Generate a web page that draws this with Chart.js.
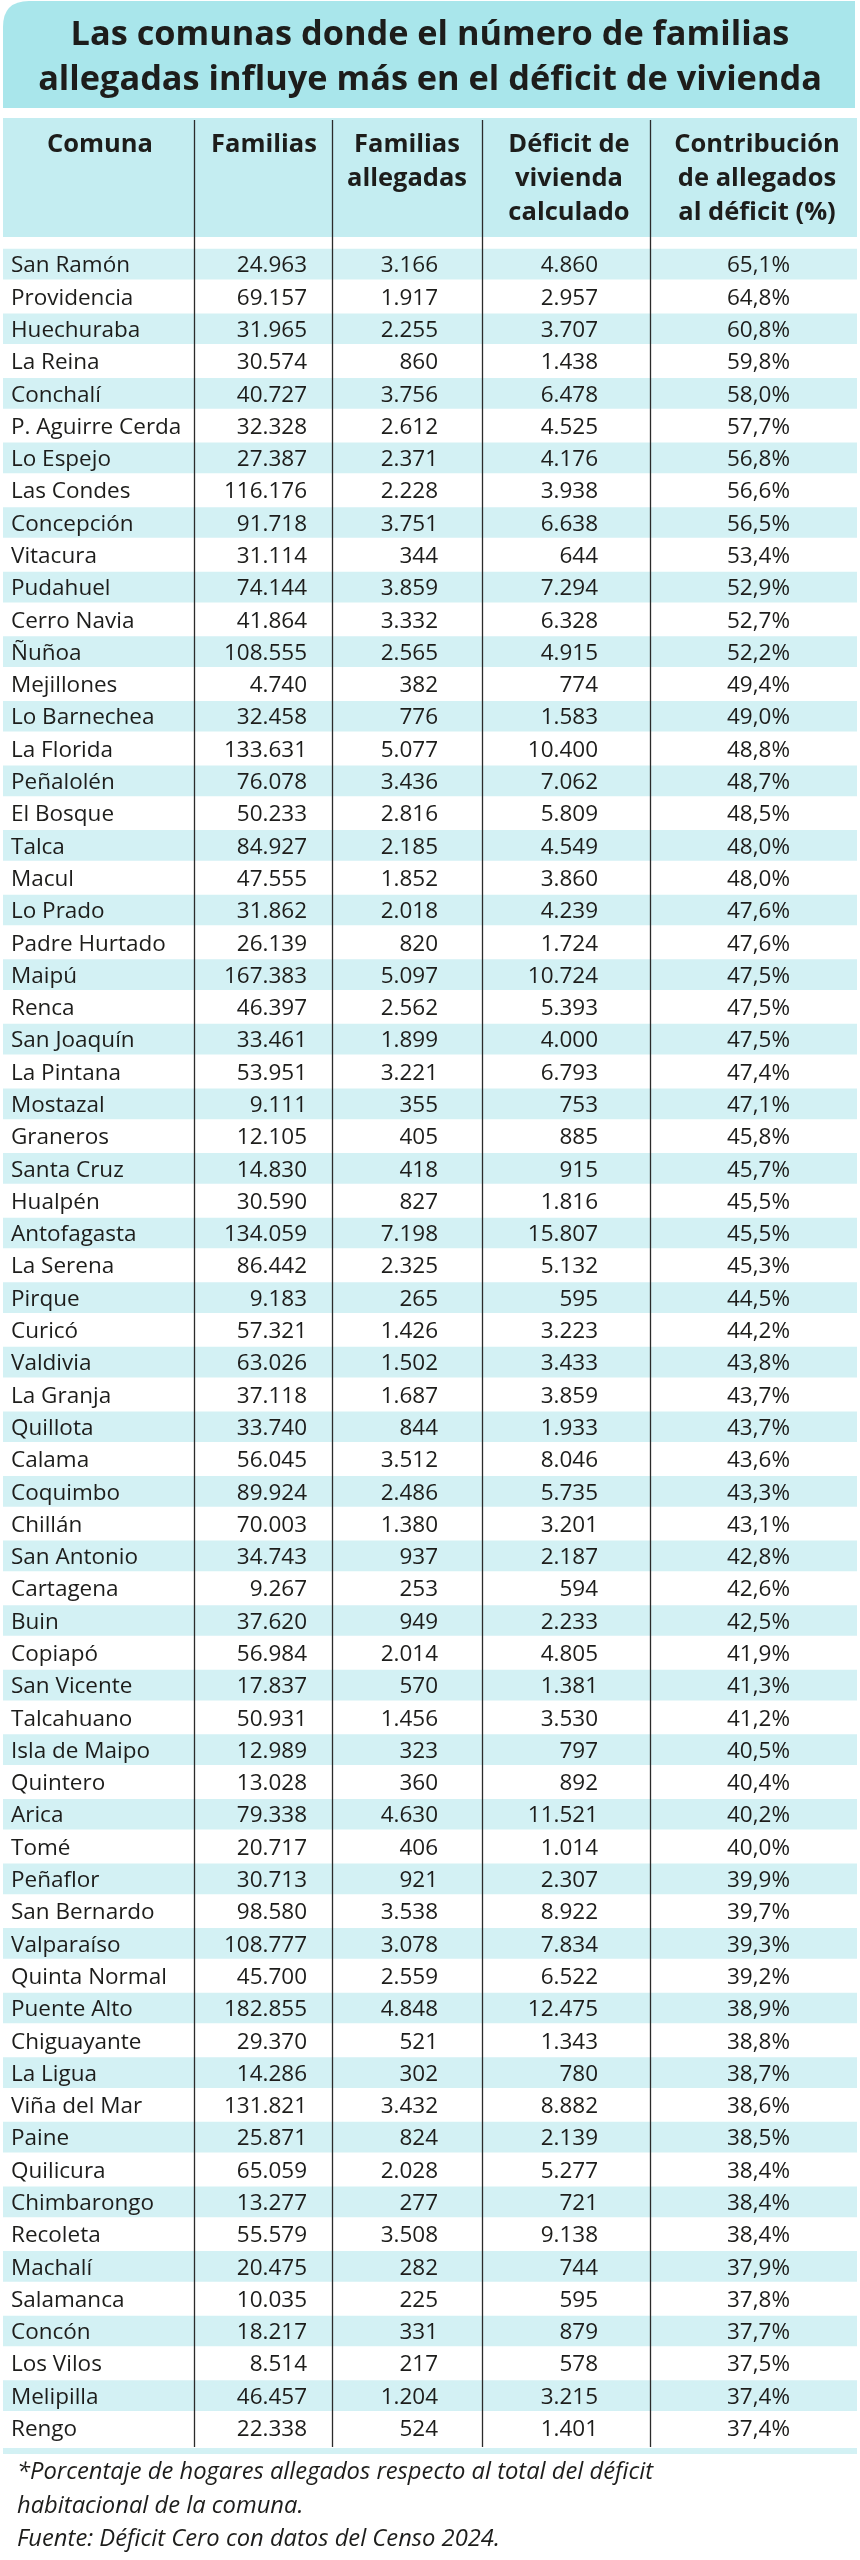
<!DOCTYPE html>
<html>
<head>
<meta charset="utf-8">
<script src="https://cdn.jsdelivr.net/npm/chart.js@4.4.1/dist/chart.umd.min.js"></script>
<style>
html,body{margin:0;padding:0;background:#fff;}
#wrap{position:relative;width:860px;height:2560px;}
canvas{display:block;}
</style>
</head>
<body>
<div id="wrap"><canvas id="c" width="860" height="2560"></canvas></div>
<script>
// ---------- DATA ----------
const comunas = ["San Ramón","Providencia","Huechuraba","La Reina","Conchalí","P. Aguirre Cerda","Lo Espejo","Las Condes","Concepción","Vitacura","Pudahuel","Cerro Navia","Ñuñoa","Mejillones","Lo Barnechea","La Florida","Peñalolén","El Bosque","Talca","Macul","Lo Prado","Padre Hurtado","Maipú","Renca","San Joaquín","La Pintana","Mostazal","Graneros","Santa Cruz","Hualpén","Antofagasta","La Serena","Pirque","Curicó","Valdivia","La Granja","Quillota","Calama","Coquimbo","Chillán","San Antonio","Cartagena","Buin","Copiapó","San Vicente","Talcahuano","Isla de Maipo","Quintero","Arica","Tomé","Peñaflor","San Bernardo","Valparaíso","Quinta Normal","Puente Alto","Chiguayante","La Ligua","Viña del Mar","Paine","Quilicura","Chimbarongo","Recoleta","Machalí","Salamanca","Concón","Los Vilos","Melipilla","Rengo"];
const familias = [24963,69157,31965,30574,40727,32328,27387,116176,91718,31114,74144,41864,108555,4740,32458,133631,76078,50233,84927,47555,31862,26139,167383,46397,33461,53951,9111,12105,14830,30590,134059,86442,9183,57321,63026,37118,33740,56045,89924,70003,34743,9267,37620,56984,17837,50931,12989,13028,79338,20717,30713,98580,108777,45700,182855,29370,14286,131821,25871,65059,13277,55579,20475,10035,18217,8514,46457,22338];
const familiasAllegadas = [3166,1917,2255,860,3756,2612,2371,2228,3751,344,3859,3332,2565,382,776,5077,3436,2816,2185,1852,2018,820,5097,2562,1899,3221,355,405,418,827,7198,2325,265,1426,1502,1687,844,3512,2486,1380,937,253,949,2014,570,1456,323,360,4630,406,921,3538,3078,2559,4848,521,302,3432,824,2028,277,3508,282,225,331,217,1204,524];
const deficitCalculado = [4860,2957,3707,1438,6478,4525,4176,3938,6638,644,7294,6328,4915,774,1583,10400,7062,5809,4549,3860,4239,1724,10724,5393,4000,6793,753,885,915,1816,15807,5132,595,3223,3433,3859,1933,8046,5735,3201,2187,594,2233,4805,1381,3530,797,892,11521,1014,2307,8922,7834,6522,12475,1343,780,8882,2139,5277,721,9138,744,595,879,578,3215,1401];
const contribucion = [65.1,64.8,60.8,59.8,58.0,57.7,56.8,56.6,56.5,53.4,52.9,52.7,52.2,49.4,49.0,48.8,48.7,48.5,48.0,48.0,47.6,47.6,47.5,47.5,47.5,47.4,47.1,45.8,45.7,45.5,45.5,45.3,44.5,44.2,43.8,43.7,43.7,43.6,43.3,43.1,42.8,42.6,42.5,41.9,41.3,41.2,40.5,40.4,40.2,40.0,39.9,39.7,39.3,39.2,38.9,38.8,38.7,38.6,38.5,38.4,38.4,38.4,37.9,37.8,37.7,37.5,37.4,37.4];
const headerLabels = [["Comuna"],["Familias"],["Familias","allegadas"],["Déficit de","vivienda","calculado"],["Contribución","de allegados","al déficit (%)"]];
const titleLines = ["Las comunas donde el número de familias","allegadas influye más en el déficit de vivienda"];
const footnoteLines = ["*Porcentaje de hogares allegados respecto al total del déficit","habitacional de la comuna.","Fuente: Déficit Cero con datos del Censo 2024."];

// ---------- LAYOUT / STYLE ----------
const TABLE_W = 854;                       // x-scale units (px from table left)
const COL_DIVIDERS = [191, 329, 479, 647];
const CELL_ANCHORS = [
  {x: 8,   align: 'left'},
  {x: 304, align: 'right'},
  {x: 435, align: 'right'},
  {x: 595, align: 'right'},
  {x: 787, align: 'right'}
];
const HEADER_CENTERS = [97, 261, 404, 566, 754];
const C_TITLE_BAND = '#a9e6eb';
const C_HEADER = '#c4edf1';
const C_STRIPE = '#d3f1f4';
const C_TEXT = '#1d1d1b';
const FONT = '"Open Sans", "Noto Sans", "DejaVu Sans", sans-serif';

function fmtInt(n){ return String(n).replace(/\B(?=(\d{3})+(?!\d))/g, '.'); }
function fmtPct(v){ return v.toFixed(1).replace('.', ',') + '%'; }

function fitSize(c, style, text, target, base){
  c.font = style + base + 'px ' + FONT;
  return base * target / c.measureText(text).width;
}

const tablePlugin = {
  id: 'tablePlugin',
  beforeDraw(chart){
    const c = chart.ctx;
    const xs = chart.scales.x;
    const L = xs.getPixelForValue(0), R = xs.getPixelForValue(TABLE_W);
    c.save();
    c.fillStyle = '#ffffff';
    c.fillRect(0, 0, chart.width, chart.height);
    // title band with rounded top-left corner
    const top = 1, bot = 108, r = 26, tl = L, tr = R - 2;
    c.fillStyle = C_TITLE_BAND;
    c.beginPath();
    c.moveTo(tl, bot);
    c.lineTo(tl, top + r);
    c.quadraticCurveTo(tl, top, tl + r, top);
    c.lineTo(tr, top);
    c.lineTo(tr, bot);
    c.closePath();
    c.fill();
    // header band
    c.fillStyle = C_HEADER;
    c.fillRect(L, 118, R - L, 119);
    c.restore();
  },
  afterDatasetsDraw(chart){
    const c = chart.ctx;
    const xs = chart.scales.x, ys = chart.scales.y;
    const area = chart.chartArea;
    c.save();
    // bottom stripe
    c.fillStyle = C_STRIPE;
    c.fillRect(xs.getPixelForValue(0), area.bottom + 4, xs.getPixelForValue(TABLE_W) - xs.getPixelForValue(0), 6);
    // column dividers
    c.strokeStyle = '#2b2b2b';
    c.lineWidth = 1.3;
    COL_DIVIDERS.forEach(v => {
      const x = Math.round(xs.getPixelForValue(v)) + 0.5;
      c.beginPath();
      c.moveTo(x, 120);
      c.lineTo(x, area.bottom + 3);
      c.stroke();
    });
    // title
    c.fillStyle = C_TEXT;
    c.textAlign = 'center';
    c.textBaseline = 'alphabetic';
    const ts = fitSize(c, 'bold ', titleLines[1], 784, 30);
    c.font = 'bold ' + ts.toFixed(2) + 'px ' + FONT;
    const tc = (xs.getPixelForValue(0) + xs.getPixelForValue(TABLE_W)) / 2;
    c.fillText(titleLines[0], tc, 45);
    c.fillText(titleLines[1], tc, 90);
    // header labels
    c.font = 'bold 25.5px ' + FONT;
    headerLabels.forEach((lines, i) => {
      const x = xs.getPixelForValue(HEADER_CENTERS[i]);
      lines.forEach((t, j) => c.fillText(t, x, 152 + j * 34));
    });
    // cells
    c.font = '22.5px ' + FONT;
    const cols = [comunas, familias.map(fmtInt), familiasAllegadas.map(fmtInt), deficitCalculado.map(fmtInt), contribucion.map(fmtPct)];
    comunas.forEach((_, i) => {
      const yb = ys.getPixelForValue(i) + 8.2;
      cols.forEach((col, k) => {
        c.textAlign = CELL_ANCHORS[k].align;
        c.fillText(col[i], xs.getPixelForValue(CELL_ANCHORS[k].x), yb);
      });
    });
    // footnotes
    c.textAlign = 'left';
    const fs = fitSize(c, 'italic ', footnoteLines[0], 636, 20);
    c.font = 'italic ' + fs.toFixed(2) + 'px ' + FONT;
    const fb = [2479, 2513, 2546];
    footnoteLines.forEach((t, j) => c.fillText(t, 17, fb[j]));
    c.restore();
  }
};

const ctx = document.getElementById('c').getContext('2d');
new Chart(ctx, {
  type: 'bar',
  data: {
    labels: comunas,
    datasets: [{
      label: 'filas',
      data: comunas.map(() => [0, TABLE_W]),
      backgroundColor: (cx) => (cx.dataIndex % 2 === 0 ? C_STRIPE : 'rgba(255,255,255,0)'),
      borderWidth: 0,
      barPercentage: 0.95,
      categoryPercentage: 1
    }]
  },
  options: {
    indexAxis: 'y',
    responsive: false,
    animation: false,
    events: [],
    layout: { padding: { top: 248, bottom: 116, left: 3, right: 3 } },
    scales: {
      x: { type: 'linear', min: 0, max: TABLE_W, display: false },
      y: { type: 'category', display: false, offset: true, grid: { display: false } }
    },
    plugins: { legend: { display: false }, tooltip: { enabled: false }, title: { display: false } }
  },
  plugins: [tablePlugin]
});
</script>
</body>
</html>
